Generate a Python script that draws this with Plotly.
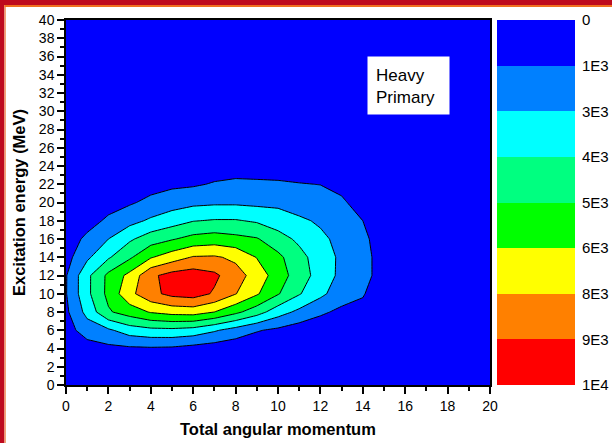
import plotly.graph_objects as go

# ---------------- data ----------------
ang_mom = list(range(0, 21))                 # Total angular momentum (x)
exc_energy = list(range(0, 41, 2))           # Excitation energy, MeV (y)

# counts[row for each excitation energy][column for each angular momentum]
counts = [
    [0, 0, 0, 0, 0, 0, 0, 0, 0, 0, 0, 0, 0, 0, 0, 0, 0, 0, 0, 0, 0],                                  # 0
    [100, 250, 350, 400, 450, 450, 400, 300, 200, 200, 150, 100, 50, 0, 0, 0, 0, 0, 0, 0, 0],        # 2
    [300, 700, 950, 1050, 1100, 1050, 800, 600, 400, 300, 250, 200, 200, 100, 0, 0, 0, 0, 0, 0, 0],  # 4
    [750, 1820, 2300, 3100, 3400, 3450, 3250, 2650, 2000, 1350, 1000, 600, 500, 400, 100, 0, 0, 0, 0, 0, 0],  # 6
    [1000, 2900, 4850, 5600, 6350, 6700, 6800, 6250, 5300, 4300, 3050, 2200, 1450, 1000, 700, 0, 0, 0, 0, 0, 0],  # 8
    [1180, 3450, 5340, 7150, 8400, 9100, 9300, 8600, 7550, 6400, 5100, 3850, 2800, 1800, 1400, 0, 0, 0, 0, 0, 0],  # 10
    [1160, 3450, 5300, 6600, 8500, 9200, 9400, 9000, 8000, 7000, 5600, 4400, 3200, 2200, 2200, 0, 0, 0, 0, 0, 0],  # 12
    [800, 2270, 3600, 4800, 6150, 6900, 7600, 7650, 7250, 6200, 5300, 4150, 3150, 2250, 2200, 0, 0, 0, 0, 0, 0],  # 14
    [650, 1500, 2500, 3550, 4400, 4900, 5400, 5600, 5350, 5100, 4250, 3500, 2800, 2100, 1800, 0, 0, 0, 0, 0, 0],  # 16
    [250, 800, 1460, 2100, 2700, 3200, 3700, 3850, 3850, 3600, 3150, 2750, 2300, 1800, 1250, 0, 0, 0, 0, 0, 0],  # 18
    [100, 400, 800, 1100, 1560, 1950, 2200, 2300, 2300, 2200, 2200, 1800, 1750, 1450, 700, 0, 0, 0, 0, 0, 0],  # 20
    [0, 150, 400, 600, 800, 1000, 1100, 1350, 1500, 1450, 1400, 1300, 1230, 900, 300, 0, 0, 0, 0, 0, 0],  # 22
    [0, 0, 100, 200, 350, 450, 500, 650, 700, 700, 700, 650, 500, 300, 0, 0, 0, 0, 0, 0, 0],  # 24
    [0, 0, 0, 0, 0, 0, 0, 0, 0, 0, 0, 0, 0, 0, 0, 0, 0, 0, 0, 0, 0],  # 26
    [0, 0, 0, 0, 0, 0, 0, 0, 0, 0, 0, 0, 0, 0, 0, 0, 0, 0, 0, 0, 0],  # 28
    [0, 0, 0, 0, 0, 0, 0, 0, 0, 0, 0, 0, 0, 0, 0, 0, 0, 0, 0, 0, 0],  # 30
    [0, 0, 0, 0, 0, 0, 0, 0, 0, 0, 0, 0, 0, 0, 0, 0, 0, 0, 0, 0, 0],  # 32
    [0, 0, 0, 0, 0, 0, 0, 0, 0, 0, 0, 0, 0, 0, 0, 0, 0, 0, 0, 0, 0],  # 34
    [0, 0, 0, 0, 0, 0, 0, 0, 0, 0, 0, 0, 0, 0, 0, 0, 0, 0, 0, 0, 0],  # 36
    [0, 0, 0, 0, 0, 0, 0, 0, 0, 0, 0, 0, 0, 0, 0, 0, 0, 0, 0, 0, 0],  # 38
    [0, 0, 0, 0, 0, 0, 0, 0, 0, 0, 0, 0, 0, 0, 0, 0, 0, 0, 0, 0, 0],  # 40
]

level_start, level_end, level_step = 1250, 8750, 1250
band_colors = ["#0000FF", "#0080FF", "#00FFFF", "#00FF80",
               "#00FF00", "#FFFF00", "#FF8000", "#FF0000"]
band_index = [0, 1, 2, 3, 4, 5, 6, 7]
band_centers = [0.5, 1.5, 2.5, 3.5, 4.5, 5.5, 6.5, 7.5]
scale_ticks = [0, 1, 2, 3, 4, 5, 6, 7, 8]
scale_labels = ["0", "1E3", "3E3", "4E3", "5E3", "6E3", "8E3", "9E3", "1E4"]

x_ticks = list(range(0, 21, 2))
y_ticks = list(range(0, 41, 2))

# ---------------- layout geometry ----------------
W, H = 612, 443
ML, MR, MT, MB = 66, 37, 20, 58
PW = W - ML - MR
PH = H - MT - MB
FONT = "Liberation Sans, Arial, sans-serif"


def px_x(px):
    return (px - ML) / PW


def px_y(py):
    return (H - MB - py) / PH


n = len(band_colors)
colorscale = [[i / (n - 1), c] for i, c in enumerate(band_colors)]

fig = go.Figure()

fig.add_trace(go.Contour(
    x=ang_mom, y=exc_energy, z=counts,
    contours=dict(start=level_start, end=level_end, size=level_step,
                  coloring="fill"),
    line=dict(color="black", width=1, smoothing=0),
    colorscale=colorscale, showscale=False, hoverinfo="skip",
    xaxis="x", yaxis="y",
))

fig.add_trace(go.Heatmap(
    x=[0], y=band_centers, z=[[v] for v in band_index],
    colorscale=colorscale, zmin=0, zmax=n - 1, showscale=False,
    hoverinfo="skip", xaxis="x2", yaxis="y2",
))

axis_font = dict(family=FONT, size=14, color="black")

fig.update_layout(
    width=W, height=H,
    margin=dict(l=ML, r=MR, t=MT, b=MB, pad=0, autoexpand=False),
    paper_bgcolor="white", plot_bgcolor="white",
    showlegend=False,
    font=dict(family=FONT, color="black"),
    xaxis=dict(domain=[0, px_x(490)], range=[0, 20], tickvals=x_ticks,
               ticks="outside", ticklen=7, tickwidth=1.5, tickcolor="black",
               minor=dict(dtick=1, ticks="outside", ticklen=4, tickwidth=1.5,
                          tickcolor="black"),
               showline=True, linecolor="black", linewidth=1.5, mirror=True,
               showgrid=False, zeroline=False, tickfont=axis_font,
               anchor="y", automargin=False),
    yaxis=dict(domain=[0, 1], range=[0, 40], tickvals=y_ticks,
               ticks="outside", ticklen=7, tickwidth=1.5, tickcolor="black",
               minor=dict(dtick=1, ticks="outside", ticklen=4, tickwidth=1.5,
                          tickcolor="black"),
               showline=True, linecolor="black", linewidth=1.5, mirror=True,
               showgrid=False, zeroline=False, tickfont=axis_font,
               anchor="x", automargin=False),
    xaxis2=dict(domain=[px_x(497), 1], range=[-0.5, 0.5], visible=False,
                anchor="y2", automargin=False),
    yaxis2=dict(domain=[0, 1], range=[8, 0], tickvals=scale_ticks,
                ticktext=scale_labels, side="right", anchor="x2",
                ticks="outside", ticklen=3, tickcolor="rgba(0,0,0,0)",
                showline=False, showgrid=False, zeroline=False,
                automargin=False,
                tickfont=dict(family=FONT, size=15, color="black")),
)

# frame along the left and top edges only
fig.add_shape(type="rect", xref="paper", yref="paper",
              x0=px_x(0), x1=px_x(4.5), y0=px_y(H), y1=px_y(0),
              line=dict(width=0), fillcolor="#BE0A1E")
fig.add_shape(type="rect", xref="paper", yref="paper",
              x0=px_x(0), x1=px_x(W), y0=px_y(5), y1=px_y(0),
              line=dict(width=0), fillcolor="#BE0A1E")
fig.add_shape(type="line", xref="paper", yref="paper",
              x0=px_x(5.2), x1=px_x(5.2), y0=px_y(H), y1=px_y(5),
              line=dict(color="#F4A070", width=1.5))
fig.add_shape(type="line", xref="paper", yref="paper",
              x0=px_x(4.5), x1=px_x(W), y0=px_y(6), y1=px_y(6),
              line=dict(color="#F07020", width=2))

# label box
fig.add_shape(type="rect", xref="paper", yref="paper",
              x0=px_x(367.5), x1=px_x(449.5), y0=px_y(114.5), y1=px_y(56.5),
              line=dict(width=0), fillcolor="white")
fig.add_annotation(xref="paper", yref="paper", x=px_x(373.5), y=px_y(86),
                   xanchor="left", yanchor="middle", align="left",
                   text="Heavy<br>Primary", showarrow=False,
                   font=dict(family=FONT, size=17, color="black"))

# axis titles
fig.add_annotation(xref="paper", yref="paper", x=px_x(278), y=px_y(429),
                   xanchor="center", yanchor="middle",
                   text="<b>Total angular momentum</b>", showarrow=False,
                   font=dict(family=FONT, size=16.5, color="black"))
fig.add_annotation(xref="paper", yref="paper", x=px_x(19), y=px_y(203),
                   xanchor="center", yanchor="middle", textangle=-90,
                   text="<b>Excitation energy (MeV)</b>", showarrow=False,
                   font=dict(family=FONT, size=16.5, color="black"))

fig.write_html("out.html")
